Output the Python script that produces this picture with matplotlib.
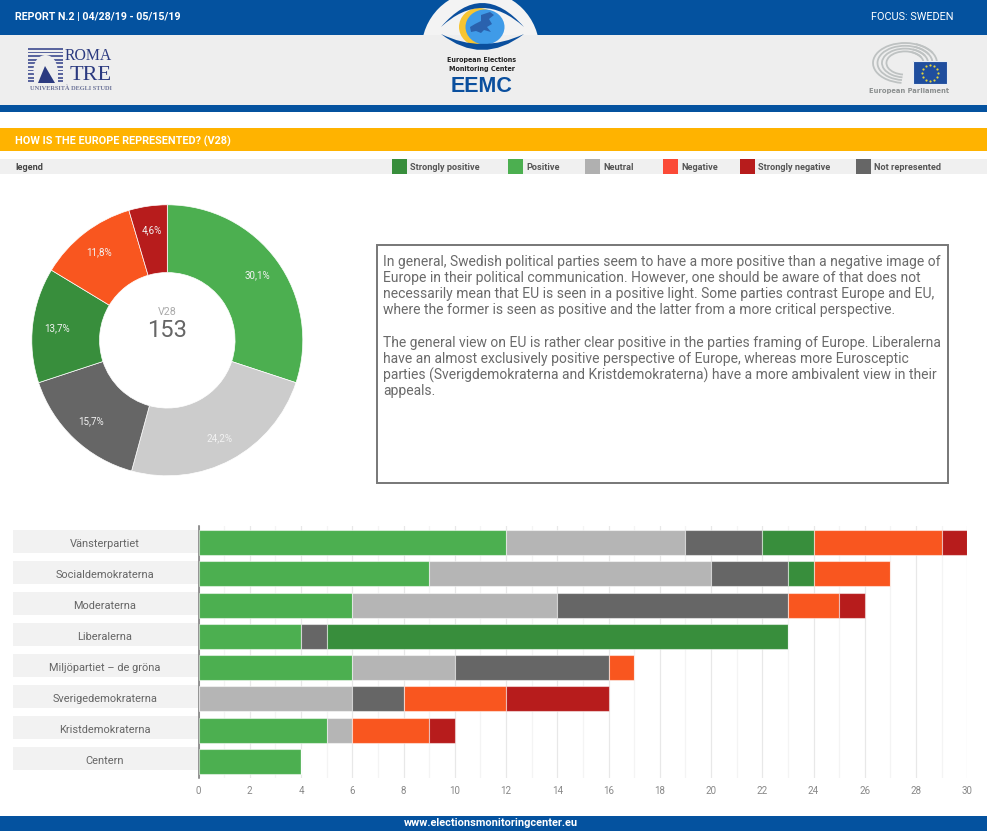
import matplotlib
matplotlib.use('Agg')
import matplotlib.pyplot as plt
from matplotlib.patches import Rectangle, Ellipse, Polygon, PathPatch, Arc, Circle
from matplotlib.path import Path
from matplotlib.ticker import MultipleLocator

plt.rcParams['font.family'] = ['Roboto', 'DejaVu Sans']

# data
parties = ['Vänsterpartiet', 'Socialdemokraterna', 'Moderaterna', 'Liberalerna',
           'Miljöpartiet – de gröna', 'Sverigedemokraterna', 'Kristdemokraterna', 'Centern']
positive = [12, 9, 6, 4, 6, 0, 5, 4]
neutral = [7, 11, 8, 0, 4, 6, 1, 0]
not_represented = [3, 3, 9, 1, 6, 2, 0, 0]
strongly_positive = [2, 1, 0, 18, 0, 0, 0, 0]
negative = [5, 3, 2, 0, 1, 4, 3, 0]
strongly_negative = [1, 0, 1, 0, 0, 4, 1, 0]

donut_values = [46, 37, 24, 21, 18, 7]
donut_total = 153

legend_labels = ['Strongly positive', 'Positive', 'Neutral', 'Negative', 'Strongly negative', 'Not represented']

comment_lines = [
    'In general, Swedish political parties seem to have a more positive than a negative image of',
    'Europe in their political communication. However, one should be aware of that does not',
    'necessarily mean that EU is seen in a positive light. Some parties contrast Europe and EU,',
    'where the former is seen as positive and the latter from a more critical perspective.',
    '',
    'The general view on EU is rather clear positive in the parties framing of Europe. Liberalerna',
    'have an almost exclusively positive perspective of Europe, whereas more Eurosceptic',
    'parties (Sverigdemokraterna and Kristdemokraterna) have a more ambivalent view in their',
    'appeals.',
]

BLUE = '#04529F'
DARK_BLUE = '#0A4F9E'
GREEN = '#4CAF50'
DARK_GREEN = '#388E3C'
ORANGE = '#F9561F'
RED = '#B71C1C'
GREY = '#666666'
W, H = 988, 831

fig = plt.figure(figsize=(W / 100, H / 100), dpi=100, facecolor='white')

# page furniture, drawn in pixel coordinates
page = fig.add_axes([0, 0, 1, 1], zorder=0)
page.set_xlim(0, W)
page.set_ylim(H, 0)
page.axis('off')


def band(x0, y0, x1, y1, color):
    page.add_patch(Rectangle((x0, y0), x1 - x0, y1 - y0, facecolor=color, edgecolor='none'))


band(0, 0, 987, 35, BLUE)
page.add_patch(Circle((480.5, 50), 59, facecolor='#F3F3F3', edgecolor='none'))
band(0, 35, 987, 105, '#EEEEEE')
band(0, 105, 987, 112, BLUE)
band(0, 128, 987, 151, '#FFB300')
band(0, 159, 987, 174, '#F0F0F0')
band(0, 816, 987, 831, BLUE)

page.text(15, 17, 'REPORT N.2 | 04/28/19 - 05/15/19', color='white', fontsize=7.7,
          fontweight='bold', va='center')
page.text(953, 17, 'FOCUS: SWEDEN', color='white', fontsize=7.8, va='center', ha='right')
page.text(15, 141.5, 'HOW IS THE EUROPE REPRESENTED? (V28)', color='white', fontsize=7.8,
          fontweight='bold', va='center')
page.text(15, 167, 'legend', color='#444444', fontsize=6.6, fontweight='bold', va='center')
page.text(491, 822.5, 'www.electionsmonitoringcenter.eu', color='white', fontsize=7.9,
          fontweight='bold', va='center', ha='center')

# legend strip
swatch_x = [392, 508, 585, 663, 740, 856]
swatch_colors = [DARK_GREEN, GREEN, '#B0B0B0', '#FB4A37', RED, GREY]
for x, c, label in zip(swatch_x, swatch_colors, legend_labels):
    band(x, 159, x + 15, 174, c)
    page.text(x + 18, 167, label, color='#555555', fontsize=6.6, fontweight='bold', va='center')

# EEMC logo
page.add_patch(Ellipse((479, 27), 40, 38, facecolor='#F7C531', edgecolor='none'))
page.add_patch(Ellipse((485, 27), 39, 35, facecolor='#3F9BE8', edgecolor='none'))
page.add_patch(Polygon([(481, 15), (490, 12), (494, 15), (489, 19), (492, 24), (487, 27), (491, 32),
                        (484, 30), (481, 33), (476, 31), (471, 32), (470, 27), (475, 24), (481, 21)],
                       facecolor='#2A62AE', edgecolor='none'))
codes = [Path.MOVETO, Path.CURVE3, Path.CURVE3, Path.LINETO, Path.CURVE3, Path.CURVE3, Path.CLOSEPOLY]
upper_lid = Path([(441, 27), (482, -21), (524, 27), (524, 27), (482, -11), (441, 27), (441, 27)], codes)
lower_lid = Path([(441, 34), (482, 66), (524, 34), (524, 34), (482, 54), (441, 34), (441, 34)], codes)
page.add_patch(PathPatch(upper_lid, facecolor=DARK_BLUE, edgecolor='none'))
page.add_patch(PathPatch(lower_lid, facecolor=DARK_BLUE, edgecolor='none'))
page.text(482, 60, 'European Elections', color='#222222', fontsize=5.1, fontweight='bold',
          ha='center', va='center', family='DejaVu Sans', stretch='condensed')
page.text(482, 69, 'Monitoring Center', color='#222222', fontsize=5.1, fontweight='bold',
          ha='center', va='center', family='DejaVu Sans', stretch='condensed')
page.text(482, 86, 'EEMC', color=DARK_BLUE, fontsize=15.5, fontweight='bold',
          ha='center', va='center', family='Liberation Sans')

# Roma Tre logo
navy = '#2B3A80'
for i in range(10):
    band(28, 48 + i * 3.6, 63, 49.8 + i * 3.6, '#5A659E')
page.add_patch(Ellipse((45.5, 70), 24, 30, facecolor='#EEEEEE', edgecolor='none'))
band(33.5, 70, 57.5, 84, '#EEEEEE')
page.add_patch(Polygon([(45, 66), (38, 83), (55, 83)], facecolor=navy, edgecolor='none'))
serif = ['Liberation Serif', 'DejaVu Serif']
page.text(112, 55.5, 'ROMA', color=navy, fontsize=11.3, ha='right', va='center', family=serif)
page.text(112, 75.5, 'TRE', color=navy, fontsize=16, ha='right', va='center', family=serif)
page.text(112, 88.5, 'UNIVERSITÀ DEGLI STUDI', color='#6C7398', fontsize=4.6, ha='right', va='center',
          family=serif, fontweight='bold')

# European Parliament logo
for r in [1.0, 0.86, 0.72, 0.58]:
    page.add_patch(Arc((905, 63), 64 * r, 40 * r, theta1=100, theta2=340, edgecolor='#BEC2C2', lw=1.3))
    page.add_patch(Arc((905, 63), 64 * r, 40 * r, theta1=300, theta2=360, edgecolor='#BEC2C2', lw=1.3))
band(913, 61, 947, 84, '#1F4E9E')
page.add_patch(Rectangle((913, 61), 34, 23, facecolor='none', edgecolor='#E8EEF5', lw=0.8))
star_dots = [(930 + dx, 72.5 + dy) for dx, dy in [(0, -8), (4, -7), (7, -4), (8, 0), (7, 4), (4, 7),
                                                  (0, 8), (-4, 7), (-7, 4), (-8, 0), (-7, -4), (-4, -7)]]
page.scatter(*zip(*star_dots), s=2.5, color='#E5D53A', linewidths=0, zorder=3)
page.text(909, 91, 'European Parliament', color='#8C9090', fontsize=5.4, fontweight='bold',
          ha='center', va='center', family='DejaVu Sans', stretch='condensed')

# comment box
page.add_patch(Rectangle((377, 245), 571, 238, facecolor='white', edgecolor='#777777', lw=1.4))
for i, line in enumerate(comment_lines):
    page.text(383, 262 + i * 16.15, line, color='#6A6A6A', fontsize=10.0, va='center')

# party name strips run on a slightly tighter pitch than the bars in the original
for i, name in enumerate(parties):
    band(13, 530 + i * 31, 198, 553.3 + i * 31, '#F2F2F2')
    page.text(105, 543.6 + i * 31, name, color='#666666', fontsize=7.9, ha='center', va='center')

# donut
cx, cy, r = 167.3, 340.3, 135.5
pie_ax = fig.add_axes([(cx - r) / W, 1 - (cy + r) / H, 2 * r / W, 2 * r / H], zorder=1)
pie_colors = [GREEN, '#CCCCCC', GREY, DARK_GREEN, ORANGE, RED]
wedges, _, autotexts = pie_ax.pie(
    donut_values, colors=pie_colors, startangle=90, counterclock=False, radius=1,
    wedgeprops={'width': 0.5, 'edgecolor': 'white', 'linewidth': 0.5},
    autopct=lambda p: f'{p:.1f}%'.replace('.', ','), pctdistance=0.82,
    textprops={'color': '#F2F2F2', 'fontsize': 7.1})
pie_ax.set_xlim(-1, 1)
pie_ax.set_ylim(-1, 1)
pie_ax.text(0, 0.21, 'V28', color='#AAAAAA', fontsize=7.7, ha='center', va='center')
pie_ax.text(0, 0.075, str(donut_total), color='#666666', fontsize=17, ha='center', va='center')

# stacked bars
x0_px, x1_px = 198.5, 967.3
top_px, bottom_px = 526, 778
ax = fig.add_axes([x0_px / W, 1 - bottom_px / H, (x1_px - x0_px) / W, (bottom_px - top_px) / H], zorder=1)
ax.patch.set_alpha(0)
y_pos = list(range(len(parties)))
left = [0] * len(parties)
series = [(positive, GREEN), (neutral, '#B5B5B5'), (not_represented, GREY),
          (strongly_positive, DARK_GREEN), (negative, ORANGE), (strongly_negative, RED)]
for values, color in series:
    ax.barh(y_pos, values, left=left, height=0.8, color=color, edgecolor='#FFFFFF80', linewidth=0.8, zorder=3)
    left = [a + b for a, b in zip(left, values)]

ax.set_xlim(0, 30)
ax.set_ylim(7.526, -0.527)
ax.xaxis.set_major_locator(MultipleLocator(2))
ax.xaxis.set_minor_locator(MultipleLocator(1))
ax.grid(axis='x', which='major', color='#E8E8E8', lw=0.9, zorder=0)
ax.grid(axis='x', which='minor', color='#F4F4F4', lw=0.9, zorder=0)
ax.set_axisbelow(True)
for s in ['top', 'right', 'bottom']:
    ax.spines[s].set_visible(False)
ax.spines['left'].set_color('#777777')
ax.spines['left'].set_linewidth(1.1)
ax.tick_params(axis='x', which='both', length=0, pad=5.5, labelsize=7, labelcolor='#888888')
ax.set_yticks([])

fig.savefig('out.png', dpi=100)
